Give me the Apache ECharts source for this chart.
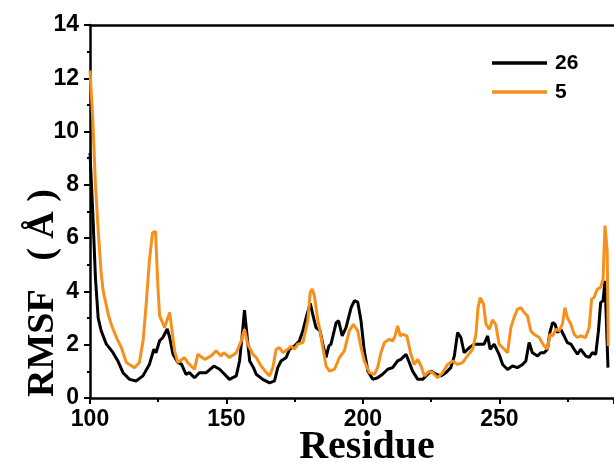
<!DOCTYPE html>
<html>
<head>
<meta charset="utf-8">
<script src="https://cdn.jsdelivr.net/npm/echarts@6/dist/echarts.min.js"></script>
<style>
html,body{margin:0;padding:0;background:#fff;}
#chart{width:614px;height:462px;}
</style>
</head>
<body>
<div id="chart"></div>
<script>
// Series "26" (black)
var residues26 = [100,101,102,103,104.1,106,108.4,110.2,112.1,114.5,116.9,119.4,121.8,123.4,124.2,125.5,126.7,128.3,129.2,130.4,132.2,133.5,135.2,136.4,138.3,140.1,142.6,145.4,147.5,149.3,151.1,153.6,154.8,155.8,156.6,157.5,158.5,159.9,160.9,163.3,165.8,167.6,168.8,170,171.9,173.1,174.9,176.7,178,179.2,180.7,181.6,182.8,184.3,185.3,186.5,187.5,188.3,190.2,191.1,192.4,193.8,195.7,196.9,198.1,199.3,200.5,201.8,203.6,205.4,207.2,209.1,210.9,212.7,213.9,215.8,217,218.2,220.1,221.9,223.1,224.9,226.8,228.6,230.4,232.2,233.5,234.7,235.9,237.1,239,240.8,242.6,244.4,245.7,246.6,248.1,249.9,251.2,253,254.8,256.6,258.5,259.7,260.9,262.1,264,265.2,266.4,267.6,268.5,269.5,270.4,271.3,272.5,273.7,274.9,276.2,277.4,278.6,279.8,281.6,282.9,284.1,285.3,286.3,287.1,288,288.7,289.3,289.8];
var rmsf26 = [9.2,7.0,4.5,3.0,2.52,2.02,1.71,1.39,0.95,0.70,0.64,0.83,1.27,1.83,1.7,2.15,2.27,2.59,2.27,1.64,1.33,1.27,0.89,0.95,0.76,0.95,0.95,1.2,1.08,0.89,0.70,0.83,1.39,2.39,3.3,2.39,1.39,1.14,0.89,0.70,0.57,0.64,1.14,1.39,1.52,1.83,1.95,2.14,2.52,3.02,3.55,3.15,2.64,2.52,2.02,1.52,1.95,2.02,2.83,2.9,2.33,2.64,3.40,3.65,3.6,2.9,1.77,1.01,0.70,0.76,0.89,1.08,1.14,1.39,1.45,1.64,1.33,1.01,0.70,0.70,0.83,1.01,0.89,0.83,0.95,1.14,1.58,2.46,2.27,1.70,1.89,2.02,2.02,2.02,2.33,1.83,2.02,1.64,1.26,1.07,1.2,1.14,1.26,1.39,2.08,1.70,1.58,1.70,1.70,1.83,2.46,2.83,2.77,2.46,2.58,2.33,2.08,2.02,1.83,1.64,1.83,1.58,1.52,1.70,1.64,2.52,3.58,3.65,4.40,4.4,1.14];

// Series "5" (orange)
var residues5 = [100,101,102,103,104,104.8,105.5,106.8,108,110,111.5,113.3,116.3,118.1,119.5,120.6,121.8,122.9,124,124.9,125.5,127.3,129.2,131,132.2,134.6,135.8,138.3,139.5,142,144.4,146.2,148,149,151.1,153.6,155.4,156.6,157.8,159.7,160.9,162.7,164.6,165.8,167,168.2,169.4,170.7,172.5,173.7,174.9,176.1,178,179.8,180.7,181.4,182.2,183.5,184.3,185.3,186.5,187.7,189.6,191.4,193.2,195,196.5,198.1,199.3,200.5,202.4,204.2,205.4,206.6,207.9,209.7,210.9,211.8,212.7,213.7,214.6,216.1,217.6,218.8,220.1,221.3,222.5,224.3,225.5,227.4,229.2,231,232.9,234.7,236.5,238.3,240.2,241.4,242.2,243,244.2,245.1,246.3,247.5,248.7,249.9,251.8,253,254.2,255.4,256.6,257.9,259.1,260.3,261.5,262.7,264.6,266.4,267.6,268.5,269.5,270.7,271.9,273.1,274,274.9,276.2,277.4,278.6,279.8,281.6,282.9,283.8,284.7,285.9,287.1,288,288.7,289.5,289.9];
var rmsf5 = [12.3,10.5,8.0,6.3,4.8,4.03,4.0,3.09,2.7,2.2,1.89,1.33,1.14,1.33,2.2,3.54,5.2,6.2,6.25,4.15,3.09,2.65,3.21,1.77,1.33,1.52,1.33,1.08,1.64,1.45,1.58,1.77,1.58,1.70,1.52,1.70,2.14,2.58,2.02,1.64,1.52,1.20,0.95,0.83,1.14,1.83,1.89,1.70,1.83,1.95,1.83,2.02,2.08,2.9,3.96,4.09,3.84,2.9,2.52,1.89,1.20,1.01,1.08,1.52,1.77,2.52,2.77,2.52,1.9,1.39,0.95,0.89,1.14,1.70,2.08,2.21,2.14,2.33,2.71,2.33,2.39,2.33,1.64,1.26,1.45,1.20,0.83,1.01,0.95,0.76,0.95,1.26,1.39,1.26,1.33,1.58,1.83,2.39,3.40,3.77,3.52,2.77,2.58,2.93,2.75,2.02,1.83,1.70,2.64,3.02,3.33,3.39,3.21,3.08,2.52,2.39,2.27,1.95,1.83,2.39,2.33,2.58,2.52,2.77,3.39,3.02,2.77,2.39,2.27,2.33,2.27,2.64,3.71,3.77,4.09,4.15,4.46,6.47,5.53,1.95];

var seriesNames = ['26', '5'];
var xTicks = [100, 150, 200, 250];
var yTicks = [0, 2, 4, 6, 8, 10, 12, 14];

function pairs(xs, ys) { return xs.map(function (x, i) { return [x, ys[i]]; }); }

var chart = echarts.init(document.getElementById('chart'), null, {renderer: 'canvas'});
var labelFont = {fontFamily: 'Liberation Sans', fontWeight: 'bold', fontSize: 23, color: '#000'};
var option = {
  animation: false,
  backgroundColor: '#fff',
  grid: {left: 90, top: 25, right: -1, bottom: 64, containLabel: false},
  legend: {
    data: seriesNames,
    orient: 'vertical',
    left: 487, top: 47,
    icon: 'rect',
    itemWidth: 55, itemHeight: 3.5,
    itemGap: 7,
    textStyle: {fontFamily: 'Liberation Sans', fontWeight: 'bold', fontSize: 21, color: '#000', lineHeight: 22, padding: [0, 0, 0, 3]}
  },
  xAxis: [{
    type: 'value', min: 100, max: 292, interval: 50,
    axisLine: {show: true, onZero: false, lineStyle: {color: '#000', width: 2.5}},
    axisTick: {show: true, length: 6, lineStyle: {color: '#000', width: 2}},
    minorTick: {show: true, splitNumber: 2, length: 4, lineStyle: {color: '#000', width: 2}},
    axisLabel: Object.assign({margin: 10, showMaxLabel: false, formatter: function (v) { return xTicks.indexOf(v) >= 0 ? String(v) : ''; }}, labelFont),
    splitLine: {show: false}
  }, {
    type: 'value', position: 'top', min: 100, max: 292,
    axisLine: {show: true, onZero: false, lineStyle: {color: '#000', width: 2.5}},
    axisTick: {show: false}, axisLabel: {show: false}, splitLine: {show: false}
  }],
  yAxis: {
    type: 'value', min: 0, max: 14, interval: 2,
    axisLine: {show: true, onZero: false, lineStyle: {color: '#000', width: 2.5}},
    axisTick: {show: true, length: 6, lineStyle: {color: '#000', width: 2}},
    minorTick: {show: true, splitNumber: 2, length: 3, lineStyle: {color: '#000', width: 2}},
    axisLabel: Object.assign({margin: 11, formatter: function (v) { return yTicks.indexOf(v) >= 0 ? String(v) : ''; }}, labelFont),
    splitLine: {show: false}
  },
  graphic: [
    {type: 'text', x: 367, y: 448, style: {text: 'Residue', font: 'bold 40px "Liberation Serif"', fill: '#000', textAlign: 'center', textVerticalAlign: 'middle'}},
    {type: 'text', x: 43, y: 293, rotation: Math.PI / 2, style: {text: 'RMSF   ( Å )', font: 'bold 38px "Liberation Serif"', fill: '#000', textAlign: 'center', textVerticalAlign: 'middle'}}
  ],
  series: [{
    name: seriesNames[0], type: 'line', data: pairs(residues26, rmsf26),
    showSymbol: false, symbol: 'none', smooth: false,
    lineStyle: {color: '#000', width: 3}, itemStyle: {color: '#000'}, z: 2
  }, {
    name: seriesNames[1], type: 'line', data: pairs(residues5, rmsf5),
    showSymbol: false, symbol: 'none', smooth: false,
    lineStyle: {color: '#f5901e', width: 3}, itemStyle: {color: '#f5901e'}, z: 3
  }]
};
chart.setOption(option);
</script>
</body>
</html>
